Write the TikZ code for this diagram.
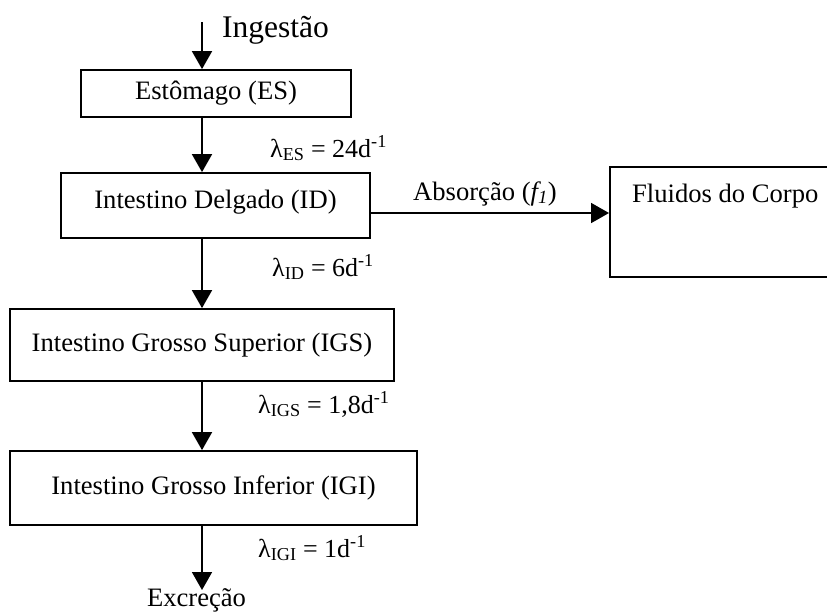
\documentclass[tikz,border=0pt]{standalone}
\usepackage{fontspec}
\setmainfont{Liberation Serif}
\usetikzlibrary{arrows.meta}

% rate label: lambda with subscript compartment, value in d^-1
\newcommand\ratelabel[2]{λ\textsubscript{#1} = #2d\textsuperscript{-1}}

\tikzset{
  txt/.style={font=\fontsize{26.6}{30}\selectfont, inner sep=0pt},
  ratetxt/.style={font=\fontsize{26}{30}\selectfont, inner sep=0pt},
  bigtxt/.style={font=\fontsize{31.5}{36}\selectfont, inner sep=0pt},
  compartment/.style={draw, line width=1.8pt, inner sep=0pt,
    text height=17pt, text depth=5pt, font=\fontsize{26.6}{30}\selectfont},
  flow/.style={line width=1.8pt, -{Triangle[width=20pt,length=18pt]}},
}

\begin{document}
\begin{tikzpicture}[x=1pt,y=-1pt]
\useasboundingbox (0,0) rectangle (827,611);

% compartments of the gastrointestinal tract
\node[compartment, minimum width=270, minimum height=47] (es) at (216,93.5) {Estômago (ES)};
\node[compartment, minimum width=309, minimum height=65, text depth=12pt] (id) at (215.5,205.5) {Intestino Delgado (ID)};
\node[compartment, minimum width=384, minimum height=72] (igs) at (202,345) {Intestino Grosso Superior (IGS)};
\node[compartment, minimum width=407, minimum height=74] (igi) at (213.5,488) {Intestino Grosso Inferior (IGI)};

% body fluids box, running off the right edge
\begin{scope}
  \clip (0,0) rectangle (827,611);
  \node[draw, line width=1.8pt, inner sep=0pt, minimum width=226, minimum height=110,
        anchor=north west] (fl) at (609,166) {};
\end{scope}
\node[txt, anchor=base west] (fltext) at (632,202) {Fluidos do Corpo};

% main vertical flow
\coordinate (ing) at (202,22);
\coordinate (out) at (202,590);
\draw[flow] (ing) -- (ing |- es.north);
\draw[flow] (ing |- es.south) -- (ing |- id.north);
\draw[flow] (ing |- id.south) -- (ing |- igs.north);
\draw[flow] (ing |- igs.south) -- (ing |- igi.north);
\draw[flow] (ing |- igi.south) -- (out);

% absorption into body fluids
\draw[flow] ([yshift=-7.5pt]id.east) -- ([yshift=-7.5pt]id.east -| fl.west);

% labels
\node[bigtxt, anchor=base west] (ingl) at (222,37) {Ingestão};
\node[txt, anchor=base] (exc) at (196.5,606) {Excreção};
\node[txt, anchor=base west] (abs) at (413,200) {Absorção (\textit{f\textsubscript{1}})};
\node[ratetxt, anchor=base west] (les) at (270,157) {\ratelabel{ES}{24}};
\node[ratetxt, anchor=base west] (lid) at (272,276) {\ratelabel{ID}{6}};
\node[ratetxt, anchor=base west] (ligs) at (258,413) {\ratelabel{IGS}{1,8}};
\node[ratetxt, anchor=base west] (ligi) at (258,557) {\ratelabel{IGI}{1}};
\end{tikzpicture}
\end{document}
